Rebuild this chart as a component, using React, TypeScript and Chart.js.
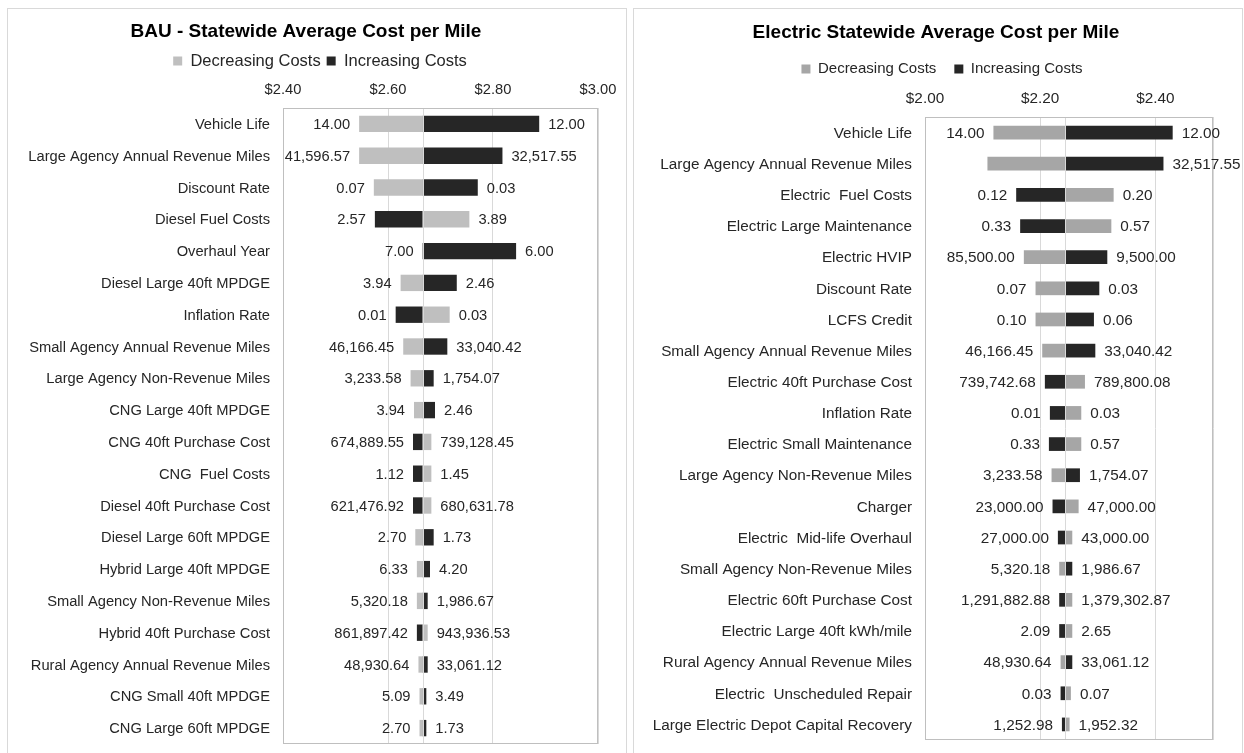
import React, { useEffect, useRef } from "react";
import { Chart, registerables } from "chart.js";

Chart.register(...registerables);

const FONT = "'Liberation Sans', Arial, sans-serif";

// ---------- BAU chart data ----------
const bauCategories = [
  "Vehicle Life",
  "Large Agency Annual Revenue Miles",
  "Discount Rate",
  "Diesel Fuel Costs",
  "Overhaul Year",
  "Diesel Large 40ft MPDGE",
  "Inflation Rate",
  "Small Agency Annual Revenue Miles",
  "Large Agency Non-Revenue Miles",
  "CNG Large 40ft MPDGE",
  "CNG 40ft Purchase Cost",
  "CNG  Fuel Costs",
  "Diesel 40ft Purchase Cost",
  "Diesel Large 60ft MPDGE",
  "Hybrid Large 40ft MPDGE",
  "Small Agency Non-Revenue Miles",
  "Hybrid 40ft Purchase Cost",
  "Rural Agency Annual Revenue Miles",
  "CNG Small 40ft MPDGE",
  "CNG Large 60ft MPDGE",
];
const bauBase = 2.666;
const bauDecreasing = [
  2.545, 2.545, 2.573, 2.755, 2.666, 2.624, 2.7175, 2.629, 2.643, 2.6495,
  2.6826, 2.6826, 2.6826, 2.652, 2.655, 2.655, 2.6756, 2.658, 2.66, 2.66,
];
const bauIncreasing = [
  2.888, 2.818, 2.771, 2.575, 2.844, 2.731, 2.6146, 2.713, 2.687, 2.6895,
  2.6476, 2.6476, 2.6476, 2.687, 2.68, 2.6756, 2.655, 2.6756, 2.673, 2.673,
];
const bauLeftLabels = [
  "14.00", "41,596.57", "0.07", "2.57", "7.00", "3.94", "0.01", "46,166.45",
  "3,233.58", "3.94", "674,889.55", "1.12", "621,476.92", "2.70", "6.33",
  "5,320.18", "861,897.42", "48,930.64", "5.09", "2.70",
];
const bauRightLabels = [
  "12.00", "32,517.55", "0.03", "3.89", "6.00", "2.46", "0.03", "33,040.42",
  "1,754.07", "2.46", "739,128.45", "1.45", "680,631.78", "1.73", "4.20",
  "1,986.67", "943,936.53", "33,061.12", "3.49", "1.73",
];
const bauAxisMin = 2.4;
const bauAxisMax = 3.0;

// ---------- Electric chart data ----------
const elecCategories = [
  "Vehicle Life",
  "Large Agency Annual Revenue Miles",
  "Electric  Fuel Costs",
  "Electric Large Maintenance",
  "Electric HVIP",
  "Discount Rate",
  "LCFS Credit",
  "Small Agency Annual Revenue Miles",
  "Electric 40ft Purchase Cost",
  "Inflation Rate",
  "Electric Small Maintenance",
  "Large Agency Non-Revenue Miles",
  "Charger",
  "Electric  Mid-life Overhaul",
  "Small Agency Non-Revenue Miles",
  "Electric 60ft Purchase Cost",
  "Electric Large 40ft kWh/mile",
  "Rural Agency Annual Revenue Miles",
  "Electric  Unscheduled Repair",
  "Large Electric Depot Capital Recovery",
];
const elecBase = 2.2435;
const elecDecreasing = [
  2.1188, 2.1084, 2.3275, 2.3235, 2.1716, 2.1919, 2.1919, 2.2035, 2.2777,
  2.2713, 2.2713, 2.2197, 2.2667, 2.2557, 2.233, 2.2557, 2.2557, 2.2354,
  2.2533, 2.251,
];
const elecIncreasing = [
  2.43, 2.414, 2.1583, 2.1652, 2.3165, 2.3026, 2.2933, 2.2957, 2.2081,
  2.2168, 2.2151, 2.269, 2.2214, 2.2307, 2.2557, 2.233, 2.233, 2.2557,
  2.2354, 2.2377,
];
const elecLeftLabels = [
  "14.00", "", "0.12", "0.33", "85,500.00", "0.07", "0.10", "46,166.45",
  "739,742.68", "0.01", "0.33", "3,233.58", "23,000.00", "27,000.00",
  "5,320.18", "1,291,882.88", "2.09", "48,930.64", "0.03", "1,252.98",
];
const elecRightLabels = [
  "12.00", "32,517.55", "0.20", "0.57", "9,500.00", "0.03", "0.06",
  "33,040.42", "789,800.08", "0.03", "0.57", "1,754.07", "47,000.00",
  "43,000.00", "1,986.67", "1,379,302.87", "2.65", "33,061.12", "0.07",
  "1,952.32",
];
const elecAxisMin = 2.0;
const elecAxisMax = 2.5;

const axisStep = 0.2;

type Cfg = {
  title: string;
  categories: string[];
  base: number;
  decreasing: number[];
  increasing: number[];
  leftLabels: string[];
  rightLabels: string[];
  min: number;
  max: number;
  lightColor: string;
  width: number;
  height: number;
  padLeft: number;
  padRight: number;
  padBottom: number;
  yAxisWidth: number;
  xAxisHeight: number;
  xTickPad: number;
  titlePadTop: number;
  titlePadBottom: number;
  legendPad: number;
  legendSize: number;
  legendShift: number;
  labelSize: number;
  barPct: number;
  gap: number;
};

function Tornado({ cfg }: { cfg: Cfg }) {
  const ref = useRef<HTMLCanvasElement>(null);
  useEffect(() => {
    if (!ref.current) return;
    const base = cfg.base;
    const overlay = {
      id: "tornadoOverlay",
      beforeDraw(chart: any) {
        // let long category labels extend into the left padding (no clipping)
        if (chart.scales.y) chart.scales.y.left = 0;
        // nudge the legend horizontally like the reference
        if (chart.legend) {
          chart.legend.left += cfg.legendShift;
          chart.legend.right += cfg.legendShift;
        }
      },
      afterDatasetsDraw(chart: any) {
        const { ctx, chartArea: a, scales } = chart;
        const xs = scales.x;
        ctx.save();
        // center line at base value
        const px = Math.round(xs.getPixelForValue(base)) + 0.5;
        ctx.strokeStyle = "#D9D9D9";
        ctx.lineWidth = 1;
        ctx.beginPath();
        ctx.moveTo(px, a.top);
        ctx.lineTo(px, a.bottom);
        ctx.stroke();
        // plot border
        ctx.strokeStyle = "#BFBFBF";
        const l = Math.round(a.left) + 0.5;
        const t = Math.round(a.top) + 0.5;
        const r = Math.round(a.right) - 0.5;
        const b = Math.round(a.bottom) - 0.5;
        ctx.strokeRect(l, t, r - l, b - t);
        // data labels
        const m0 = chart.getDatasetMeta(0).data;
        const m1 = chart.getDatasetMeta(1).data;
        ctx.font = `${cfg.labelSize}px ${FONT}`;
        ctx.fillStyle = "#262626";
        ctx.textBaseline = "middle";
        m0.forEach((el: any, i: number) => {
          const p0 = el.getProps(["x", "y", "base"], true);
          const p1 = m1[i].getProps(["x", "y", "base"], true);
          const minX = Math.min(p0.x, p0.base, p1.x, p1.base);
          const maxX = Math.max(p0.x, p0.base, p1.x, p1.base);
          ctx.textAlign = "right";
          ctx.fillText(cfg.leftLabels[i], minX - cfg.gap, p0.y + 1);
          ctx.textAlign = "left";
          ctx.fillText(cfg.rightLabels[i], maxX + cfg.gap, p0.y + 1);
        });
        ctx.restore();
      },
    };
    const chart = new Chart(ref.current, {
      type: "bar",
      data: {
        labels: cfg.categories,
        datasets: [
          {
            label: "Decreasing Costs",
            data: cfg.decreasing.map((v) => [base, v]) as any,
            backgroundColor: cfg.lightColor,
            borderWidth: 0,
            grouped: false,
            barPercentage: cfg.barPct,
            categoryPercentage: 1,
          } as any,
          {
            label: "Increasing Costs",
            data: cfg.increasing.map((v) => [base, v]) as any,
            backgroundColor: "#262626",
            borderWidth: 0,
            grouped: false,
            barPercentage: cfg.barPct,
            categoryPercentage: 1,
          } as any,
        ],
      },
      options: {
        indexAxis: "y",
        animation: false,
        responsive: false,
        maintainAspectRatio: false,
        layout: {
          padding: {
            top: 0,
            left: cfg.padLeft,
            right: cfg.padRight,
            bottom: cfg.padBottom,
          },
        },
        plugins: {
          title: {
            display: true,
            text: cfg.title,
            color: "#000000",
            font: { size: 19, weight: "bold", family: FONT },
            padding: { top: cfg.titlePadTop, bottom: cfg.titlePadBottom },
          },
          legend: {
            display: true,
            labels: {
              boxWidth: 9,
              boxHeight: 9,
              padding: cfg.legendPad,
              color: "#262626",
              font: { size: cfg.legendSize, family: FONT },
            },
          },
          tooltip: { enabled: false },
        },
        scales: {
          x: {
            type: "linear",
            position: "top",
            min: cfg.min,
            max: cfg.max,
            ticks: {
              stepSize: axisStep,
              color: "#262626",
              padding: cfg.xTickPad,
              font: { size: cfg.labelSize, family: FONT },
              callback: (v: any) => {
                const n = Number(v);
                if (Math.abs(n - 2.5) < 1e-6) return "";
                return "$" + n.toFixed(2);
              },
            },
            grid: { color: "#D9D9D9", drawTicks: false, lineWidth: 1 },
            border: { display: false },
            afterFit: (s: any) => {
              s.height = cfg.xAxisHeight;
            },
          },
          y: {
            ticks: {
              autoSkip: false,
              color: "#262626",
              padding: 13,
              labelOffset: 1,
              font: { size: cfg.labelSize, family: FONT },
            },
            grid: { display: false, drawTicks: false },
            border: { display: false },
            afterFit: (s: any) => {
              s.width = cfg.yAxisWidth;
            },
          },
        },
      } as any,
      plugins: [overlay],
    });
    return () => chart.destroy();
  }, [cfg]);
  return (
    <canvas
      ref={ref}
      width={cfg.width}
      height={cfg.height}
      style={{ display: "block", width: cfg.width, height: cfg.height }}
    />
  );
}

const bauCfg: Cfg = {
  title: "BAU - Statewide Average Cost per Mile",
  categories: bauCategories,
  base: bauBase,
  decreasing: bauDecreasing,
  increasing: bauIncreasing,
  leftLabels: bauLeftLabels,
  rightLabels: bauRightLabels,
  min: bauAxisMin,
  max: bauAxisMax,
  lightColor: "#BFBFBF",
  width: 618,
  height: 760,
  padLeft: 6,
  padRight: 28,
  padBottom: 25,
  yAxisWidth: 269,
  xAxisHeight: 28.75,
  xTickPad: 9.2,
  titlePadTop: 11.6,
  titlePadBottom: 3.35,
  legendPad: 6,
  legendSize: 16.5,
  legendShift: 14,
  labelSize: 14.7,
  barPct: 0.515,
  gap: 9,
};

const elecCfg: Cfg = {
  title: "Electric Statewide Average Cost per Mile",
  categories: elecCategories,
  base: elecBase,
  decreasing: elecDecreasing,
  increasing: elecIncreasing,
  leftLabels: elecLeftLabels,
  rightLabels: elecRightLabels,
  min: elecAxisMin,
  max: elecAxisMax,
  lightColor: "#A6A6A6",
  width: 608,
  height: 760,
  padLeft: 25,
  padRight: 29,
  padBottom: 29,
  yAxisWidth: 266,
  xAxisHeight: 30.5,
  xTickPad: 9.4,
  titlePadTop: 12.6,
  titlePadBottom: -0.9,
  legendPad: 18,
  legendSize: 15,
  legendShift: 6,
  labelSize: 15.3,
  barPct: 0.44,
  gap: 9,
};

export default function App() {
  const card: React.CSSProperties = {
    position: "absolute",
    top: 8,
    border: "1px solid #D9D9D9",
    background: "#FFFFFF",
  };
  return (
    <div
      style={{
        position: "absolute",
        left: 0,
        top: 0,
        width: 1244,
        height: 753,
        overflow: "hidden",
        background: "#FFFFFF",
      }}
    >
      <div style={{ ...card, left: 7, width: 618, height: 760 }}>
        <Tornado cfg={bauCfg} />
      </div>
      <div style={{ ...card, left: 633, width: 608, height: 760 }}>
        <Tornado cfg={elecCfg} />
      </div>
    </div>
  );
}
